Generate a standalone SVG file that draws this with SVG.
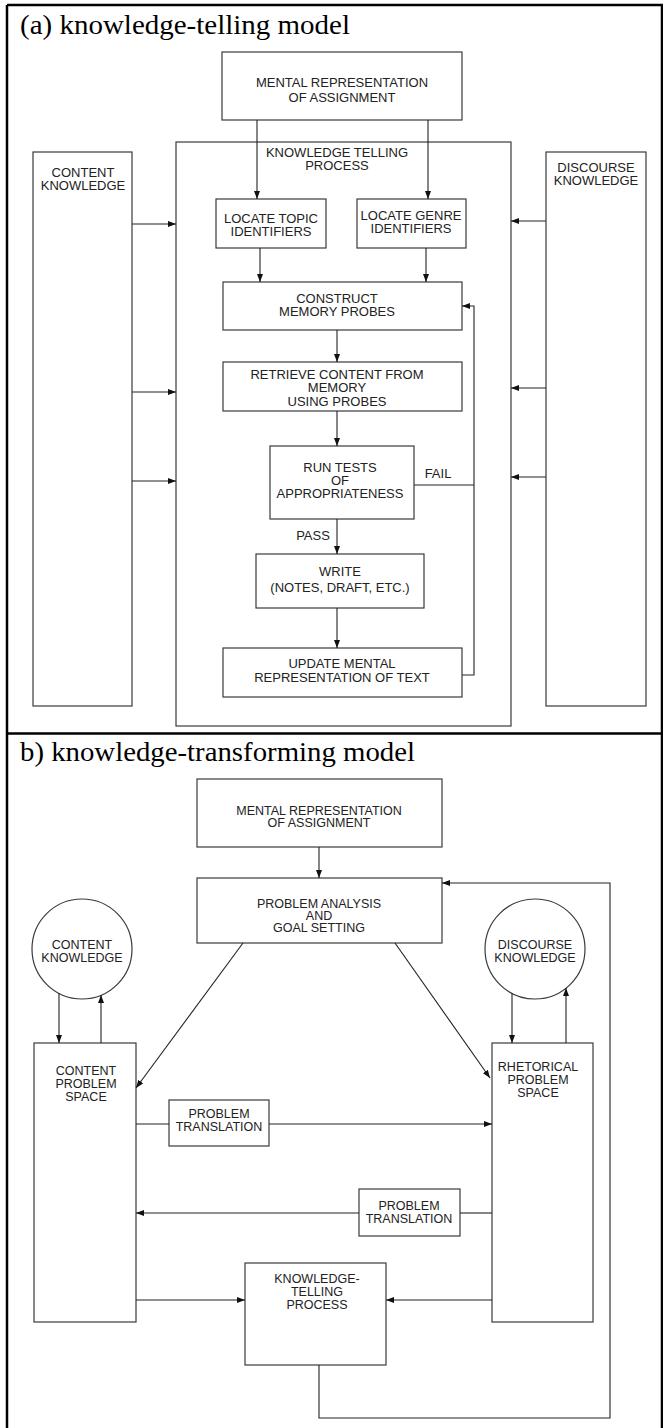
<svg xmlns="http://www.w3.org/2000/svg" width="663" height="1428" viewBox="0 0 663 1428">
  <defs>
    <marker id="ah" viewBox="0 0 8 6" refX="8" refY="3" markerWidth="8" markerHeight="6" markerUnits="userSpaceOnUse" orient="auto">
      <path d="M0,0 L8,3 L0,6 Z" fill="#111"/>
    </marker>
    <style>
      .frame { fill: none; stroke: #000; stroke-width: 2.5; }
      .box { fill: #fff; stroke: #3a3a3a; stroke-width: 1.2; }
      .lbl { font-family: "Liberation Sans", Arial, sans-serif; font-size: 13px; fill: #222; text-anchor: middle; }
      .lblb { font-family: "Liberation Sans", Arial, sans-serif; font-size: 12.5px; fill: #222; text-anchor: middle; }
      .title { font-family: "Liberation Serif", "Times New Roman", serif; font-size: 27px; fill: #000; }
      .edge { fill: none; stroke: #222; stroke-width: 1.1; }
      .arr { marker-end: url(#ah); }
    </style>
  </defs>

  <rect width="663" height="1428" fill="#fff"/>

  <!-- outer table frame and divider between the two panels -->
  <g id="frame">
    <line class="frame" x1="7" y1="5" x2="7" y2="1428"/>
    <line class="frame" x1="7" y1="5" x2="663" y2="5"/>
    <line class="frame" x1="662" y1="5" x2="662" y2="1428"/>
    <line class="frame" x1="7" y1="733.5" x2="663" y2="733.5"/>
  </g>

  <!-- panel (a): knowledge-telling model -->
  <text id="title-a" class="title" x="20" y="34" textLength="330" lengthAdjust="spacingAndGlyphs">(a) knowledge-telling model</text>

  <g id="a-kt-process">
    <rect class="box" x="176" y="142" width="335" height="584"/>
    <text class="lbl" x="337" y="157">KNOWLEDGE TELLING</text>
    <text class="lbl" x="337" y="170">PROCESS</text>
  </g>
  <g id="a-mental-rep">
    <rect class="box" x="222" y="52" width="240" height="68"/>
    <text class="lbl" x="342" y="87">MENTAL REPRESENTATION</text>
    <text class="lbl" x="342" y="102">OF ASSIGNMENT</text>
  </g>
  <g id="a-content-knowledge">
    <rect class="box" x="33" y="152" width="99" height="554"/>
    <text class="lbl" x="83" y="177">CONTENT</text>
    <text class="lbl" x="83" y="190">KNOWLEDGE</text>
  </g>
  <g id="a-discourse-knowledge">
    <rect class="box" x="546" y="152" width="100" height="554"/>
    <text class="lbl" x="596" y="172">DISCOURSE</text>
    <text class="lbl" x="596" y="185">KNOWLEDGE</text>
  </g>
  <g id="a-locate-topic">
    <rect class="box" x="216" y="199" width="110" height="49"/>
    <text class="lbl" x="271" y="222.5">LOCATE TOPIC</text>
    <text class="lbl" x="271" y="235.5">IDENTIFIERS</text>
  </g>
  <g id="a-locate-genre">
    <rect class="box" x="357" y="199" width="109" height="49"/>
    <text class="lbl" x="411" y="219.5">LOCATE GENRE</text>
    <text class="lbl" x="411" y="232.5">IDENTIFIERS</text>
  </g>
  <g id="a-construct">
    <rect class="box" x="223" y="282" width="239" height="48"/>
    <text class="lbl" x="337" y="302.5">CONSTRUCT</text>
    <text class="lbl" x="337" y="315.5">MEMORY PROBES</text>
  </g>
  <g id="a-retrieve">
    <rect class="box" x="223" y="362" width="239" height="49"/>
    <text class="lbl" x="337" y="378.5">RETRIEVE CONTENT FROM</text>
    <text class="lbl" x="337" y="391.5">MEMORY</text>
    <text class="lbl" x="337" y="405.5">USING PROBES</text>
  </g>
  <g id="a-run-tests">
    <rect class="box" x="270" y="446" width="144" height="73"/>
    <text class="lbl" x="340" y="471.5">RUN TESTS</text>
    <text class="lbl" x="340" y="484.5">OF</text>
    <text class="lbl" x="340" y="497.5">APPROPRIATENESS</text>
  </g>
  <g id="a-write">
    <rect class="box" x="256" y="554" width="168" height="54"/>
    <text class="lbl" x="340" y="575.5">WRITE</text>
    <text class="lbl" x="340" y="591.5">(NOTES, DRAFT, ETC.)</text>
  </g>
  <g id="a-update">
    <rect class="box" x="223" y="648" width="239" height="49"/>
    <text class="lbl" x="342" y="667.5">UPDATE MENTAL</text>
    <text class="lbl" x="342" y="681.5">REPRESENTATION OF TEXT</text>
  </g>

  <g id="a-connectors">
    <line class="edge arr" x1="257" y1="120" x2="257" y2="199"/>
    <line class="edge arr" x1="428" y1="120" x2="428" y2="199"/>
    <line class="edge arr" x1="260" y1="248" x2="260" y2="282"/>
    <line class="edge arr" x1="426" y1="248" x2="426" y2="282"/>
    <line class="edge arr" x1="337" y1="330" x2="337" y2="362"/>
    <line class="edge arr" x1="337" y1="411" x2="337" y2="446"/>
    <line class="edge arr" x1="337" y1="519" x2="337" y2="554"/>
    <line class="edge arr" x1="337" y1="608" x2="337" y2="648"/>
    <!-- FAIL / update feedback loop back to probe construction -->
    <line class="edge" x1="414" y1="485" x2="474" y2="485"/>
    <polyline class="edge arr" points="462,675 474,675 474,306 462,306"/>
    <!-- knowledge sources feeding the process -->
    <line class="edge arr" x1="132" y1="224" x2="176" y2="224"/>
    <line class="edge arr" x1="132" y1="392" x2="176" y2="392"/>
    <line class="edge arr" x1="132" y1="481" x2="176" y2="481"/>
    <line class="edge arr" x1="546" y1="221" x2="511" y2="221"/>
    <line class="edge arr" x1="546" y1="388" x2="511" y2="388"/>
    <line class="edge arr" x1="546" y1="477" x2="511" y2="477"/>
    <text class="lbl" x="438" y="478">FAIL</text>
    <text class="lbl" x="313" y="539.5">PASS</text>
  </g>

  <!-- panel (b): knowledge-transforming model -->
  <text id="title-b" class="title" x="20" y="761" textLength="395" lengthAdjust="spacingAndGlyphs">b) knowledge-transforming model</text>

  <g id="b-mental-rep">
    <rect class="box" x="197" y="779" width="245" height="68"/>
    <text class="lblb" x="319" y="814.5">MENTAL REPRESENTATION</text>
    <text class="lblb" x="319" y="826.5">OF ASSIGNMENT</text>
  </g>
  <g id="b-problem-analysis">
    <rect class="box" x="197" y="878" width="245" height="65"/>
    <text class="lblb" x="319" y="907.5">PROBLEM ANALYSIS</text>
    <text class="lblb" x="319" y="919.5">AND</text>
    <text class="lblb" x="319" y="931.5">GOAL SETTING</text>
  </g>
  <g id="b-content-knowledge">
    <circle class="box" cx="82" cy="949" r="50"/>
    <text class="lblb" x="82" y="949">CONTENT</text>
    <text class="lblb" x="82" y="962">KNOWLEDGE</text>
  </g>
  <g id="b-discourse-knowledge">
    <circle class="box" cx="535" cy="949" r="50"/>
    <text class="lblb" x="535" y="949">DISCOURSE</text>
    <text class="lblb" x="535" y="962">KNOWLEDGE</text>
  </g>
  <g id="b-content-space">
    <rect class="box" x="34" y="1043" width="102" height="279"/>
    <text class="lblb" x="86" y="1074.5">CONTENT</text>
    <text class="lblb" x="86" y="1087.5">PROBLEM</text>
    <text class="lblb" x="86" y="1101">SPACE</text>
  </g>
  <g id="b-rhetorical-space">
    <rect class="box" x="492" y="1043" width="101" height="279"/>
    <text class="lblb" x="538" y="1071">RHETORICAL</text>
    <text class="lblb" x="538" y="1084">PROBLEM</text>
    <text class="lblb" x="538" y="1097">SPACE</text>
  </g>
  <g id="b-translation-1">
    <rect class="box" x="169" y="1100" width="100" height="46"/>
    <text class="lblb" x="219" y="1117.5">PROBLEM</text>
    <text class="lblb" x="219" y="1130.5">TRANSLATION</text>
  </g>
  <g id="b-translation-2">
    <rect class="box" x="359" y="1189" width="101" height="47"/>
    <text class="lblb" x="409" y="1209.5">PROBLEM</text>
    <text class="lblb" x="409" y="1222.5">TRANSLATION</text>
  </g>
  <g id="b-kt-process">
    <rect class="box" x="245" y="1263" width="141" height="102"/>
    <text class="lblb" x="317" y="1282.5">KNOWLEDGE-</text>
    <text class="lblb" x="317" y="1295.5">TELLING</text>
    <text class="lblb" x="317" y="1308.5">PROCESS</text>
  </g>

  <g id="b-connectors">
    <line class="edge arr" x1="319" y1="847" x2="319" y2="878"/>
    <line class="edge arr" x1="243" y1="943" x2="136" y2="1088"/>
    <line class="edge arr" x1="395" y1="943" x2="490" y2="1078"/>
    <line class="edge arr" x1="59" y1="993" x2="59" y2="1043"/>
    <line class="edge arr" x1="101" y1="1043" x2="101" y2="995"/>
    <line class="edge arr" x1="512" y1="993" x2="512" y2="1043"/>
    <line class="edge arr" x1="566" y1="1043" x2="566" y2="988"/>
    <line class="edge" x1="136" y1="1124" x2="169" y2="1124"/>
    <line class="edge arr" x1="269" y1="1124" x2="492" y2="1124"/>
    <line class="edge" x1="492" y1="1213" x2="460" y2="1213"/>
    <line class="edge arr" x1="359" y1="1213" x2="136" y2="1213"/>
    <line class="edge arr" x1="136" y1="1300" x2="245" y2="1300"/>
    <line class="edge arr" x1="492" y1="1300" x2="386" y2="1300"/>
    <polyline class="edge arr" points="319,1365 319,1418 610,1418 610,883 442,883"/>
  </g>
</svg>
